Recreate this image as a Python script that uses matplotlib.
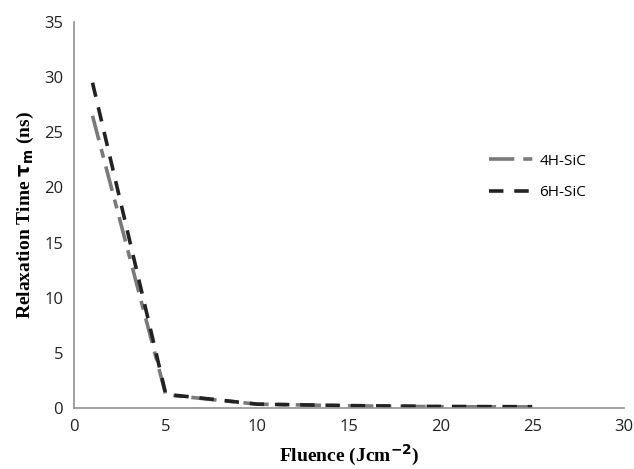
import matplotlib
matplotlib.use("Agg")
import matplotlib.pyplot as plt

fluence = [1, 5, 10, 15, 20, 25]
tau_4h = [26.5, 1.2, 0.35, 0.2, 0.12, 0.1]
tau_6h = [29.5, 1.25, 0.35, 0.22, 0.14, 0.12]

fig = plt.figure(figsize=(6.34, 4.69), dpi=100)
ax = fig.add_axes([0.117, 0.13, 0.867, 0.823])

ax.plot(fluence, tau_4h, color="#7a7a7a", lw=2.6, dashes=(7, 2.5, 2.5, 2.5), label="4H-SiC")
ax.plot(fluence, tau_6h, color="#222222", lw=2.6, dashes=(4, 3), label="6H-SiC")

ax.set_xlim(0, 30)
ax.set_ylim(0, 35)
ax.set_xticks(range(0, 31, 5))
ax.set_yticks(range(0, 36, 5))
for sp in ["top", "right"]:
    ax.spines[sp].set_visible(False)
for sp in ["left", "bottom"]:
    ax.spines[sp].set_color("#909090")
    ax.spines[sp].set_linewidth(1.2)
ax.tick_params(axis="x", length=0, labelsize=12, colors="#222222", pad=8)
ax.tick_params(axis="y", length=0, labelsize=12, colors="#222222", pad=8)
for t in ax.get_xticklabels() + ax.get_yticklabels():
    t.set_family("Open Sans")

ax.set_xlabel(r"Fluence (Jcm$^{\mathbf{-2}}$)", family="Liberation Serif", fontweight="bold", fontsize=14, labelpad=6)
ax.set_ylabel(r"Relaxation Time $\mathbf{\tau_m}$ (ns)", family="Liberation Serif", fontweight="bold", fontsize=14, labelpad=6)

leg = ax.legend(loc="upper left", bbox_to_anchor=(0.73, 0.695), frameon=False,
                handlelength=3.0, handletextpad=0.3, labelspacing=1.1,
                prop={"family": "Open Sans", "size": 11})

fig.savefig("out.png", dpi=100)
